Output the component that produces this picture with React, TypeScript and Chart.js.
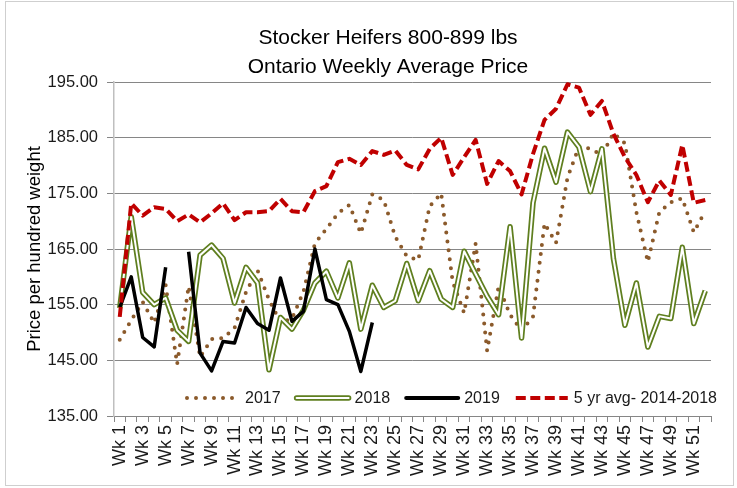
import React, { useEffect, useRef } from 'react';
import { Chart, registerables } from 'chart.js';

Chart.register(...registerables);

const weekLabels = [
  'Wk 1', 'Wk 2', 'Wk 3', 'Wk 4', 'Wk 5', 'Wk 6', 'Wk 7', 'Wk 8', 'Wk 9', 'Wk 10',
  'Wk 11', 'Wk 12', 'Wk 13', 'Wk 14', 'Wk 15', 'Wk 16', 'Wk 17', 'Wk 18', 'Wk 19', 'Wk 20',
  'Wk 21', 'Wk 22', 'Wk 23', 'Wk 24', 'Wk 25', 'Wk 26', 'Wk 27', 'Wk 28', 'Wk 29', 'Wk 30',
  'Wk 31', 'Wk 32', 'Wk 33', 'Wk 34', 'Wk 35', 'Wk 36', 'Wk 37', 'Wk 38', 'Wk 39', 'Wk 40',
  'Wk 41', 'Wk 42', 'Wk 43', 'Wk 44', 'Wk 45', 'Wk 46', 'Wk 47', 'Wk 48', 'Wk 49', 'Wk 50',
  'Wk 51', 'Wk 52',
];

const values2017 = [
  148.7, 152.2, 155.5, 151.7, 158.5, 144.3, 158.3, 145.6, 148.8, 149.0,
  150.8, 157.3, 161.2, 155.9, 151.8, 152.5, 157.3, 166.0, 168.6, 171.4,
  172.9, 167.8, 174.8, 173.8, 167.2, 163.7, 163.0, 172.7, 175.0, 159.1,
  153.5, 166.0, 146.7, 158.3, 153.2, 150.3, 152.9, 169.6, 166.1, 177.8,
  183.4, 183.0, 181.9, 185.8, 184.0, 171.6, 162.7, 171.6, 173.4, 174.1,
  168.0, 171.8,
];

const values2018 = [
  154.4, 170.8, 157.2, 155.0, 156.2, 150.4, 148.4, 163.9, 165.7, 163.3,
  155.3, 161.7, 158.9, 143.3, 152.7, 150.6, 154.0, 158.9, 161.0, 156.2,
  162.5, 150.6, 158.5, 154.5, 155.7, 162.4, 155.7, 161.1, 156.0, 154.5,
  164.6, 160.5, 156.5, 153.2, 169.0, 149.0, 173.3, 183.1, 177.0, 186.0,
  183.3, 175.3, 183.0, 163.3, 151.3, 158.9, 147.4, 152.9, 152.5, 165.3,
  151.6, 157.5,
];

const values2019 = [
  154.5, 160.0, 149.1, 147.4, 161.7, null, 164.5, 146.3, 143.1, 148.4,
  148.1, 154.5, 151.6, 150.4, 159.8, 152.0, 153.8, 165.0, 155.9, 155.0,
  150.2, 143.0, 151.8,
];

const values5yr = [
  152.8, 173.2, 171.0, 172.5, 172.2, 170.0, 171.2, 169.8, 171.4, 173.2,
  170.2, 171.6, 171.6, 171.8, 174.0, 171.8, 171.6, 175.4, 176.3, 180.6,
  181.2, 180.1, 182.6, 181.9, 182.7, 180.1, 179.3, 183.0, 185.0, 178.3,
  181.5, 184.6, 176.7, 180.8, 179.0, 174.8, 182.1, 188.2, 190.2, 194.6,
  194.0, 189.1, 191.6, 185.7, 181.5, 178.3, 173.4, 177.3, 174.7, 183.7,
  173.3, 173.8,
];

const yMin = 135;
const yMax = 195;
const yStep = 10;

const titleLines = ['Stocker Heifers 800-899 lbs', 'Ontario Weekly Average Price'];
const yAxisTitle = 'Price per hundred weight';
const legendLabels = ['2017', '2018', '2019', '5 yr avg- 2014-2018'];

const FONT = '"Liberation Sans", Arial, sans-serif';
const BROWN = '#8B5A2B';
const GREEN = '#5f7f1f';
const BLACK = '#000000';
const RED = '#C00000';
const GRID = '#868686';
const TEXT = '#1a1a1a';

const DOT_DASH = [0, 9];
const RED_DASH = [10, 4.5];

const frameAndTitlePlugin = {
  id: 'frameAndTitle',
  beforeDraw(chart: any) {
    const { ctx, width, height } = chart;
    ctx.save();
    ctx.fillStyle = '#ffffff';
    ctx.fillRect(0, 0, width, height);
    ctx.strokeStyle = '#cfcfcf';
    ctx.lineWidth = 1;
    ctx.strokeRect(5.5, 1.5, width - 9, height - 4);
    ctx.restore();
  },
  afterDraw(chart: any) {
    const { ctx, chartArea } = chart;
    ctx.save();
    ctx.font = `21px ${FONT}`;
    ctx.fillStyle = '#000';
    ctx.textAlign = 'center';
    ctx.textBaseline = 'middle';
    const cx = chartArea.left + (chartArea.right - chartArea.left) * 0.459;
    ctx.fillText(titleLines[0], cx, chartArea.top - 44);
    ctx.fillText(titleLines[1], cx, chartArea.top - 15);
    ctx.restore();
  },
};

const legendPlugin = {
  id: 'insideLegend',
  afterDatasetsDraw(chart: any) {
    const { ctx, chartArea } = chart;
    const y = chartArea.bottom - 18;
    let x = chartArea.left + 73;
    const sample = 52;
    ctx.save();
    ctx.font = `16px ${FONT}`;
    ctx.textBaseline = 'middle';
    ctx.textAlign = 'left';
    legendLabels.forEach((label, i) => {
      ctx.save();
      ctx.beginPath();
      ctx.moveTo(x, y);
      ctx.lineTo(x + sample, y);
      if (i === 0) {
        ctx.strokeStyle = BROWN;
        ctx.lineWidth = 4;
        ctx.lineCap = 'round';
        ctx.setLineDash(DOT_DASH);
        ctx.stroke();
      } else if (i === 1) {
        ctx.strokeStyle = GREEN;
        ctx.lineWidth = 5.5;
        ctx.lineCap = 'round';
        ctx.stroke();
        ctx.strokeStyle = '#ffffff';
        ctx.lineWidth = 2;
        ctx.stroke();
      } else if (i === 2) {
        ctx.strokeStyle = BLACK;
        ctx.lineWidth = 4;
        ctx.lineCap = 'round';
        ctx.stroke();
      } else {
        ctx.strokeStyle = RED;
        ctx.lineWidth = 4;
        ctx.lineCap = 'butt';
        ctx.setLineDash(RED_DASH);
        ctx.stroke();
      }
      ctx.restore();
      ctx.fillStyle = TEXT;
      ctx.fillText(label, x + sample + 6, y + 1);
      x += sample + 6 + ctx.measureText(label).width + 16;
    });
    ctx.restore();
  },
};

export default function App() {
  const canvasRef = useRef<HTMLCanvasElement | null>(null);

  useEffect(() => {
    const canvas = canvasRef.current;
    if (!canvas) return;
    const chart = new Chart(canvas, {
      type: 'line',
      data: {
        labels: weekLabels,
        datasets: [
          {
            label: legendLabels[3],
            data: values5yr,
            borderColor: RED,
            borderWidth: 4,
            borderDash: RED_DASH,
            borderCapStyle: 'butt',
            borderJoinStyle: 'round',
            pointRadius: 0,
            fill: false,
            tension: 0,
            order: 1,
          },
          {
            label: legendLabels[2],
            data: values2019,
            borderColor: BLACK,
            borderWidth: 3.5,
            borderJoinStyle: 'round',
            pointRadius: 0,
            fill: false,
            tension: 0,
            spanGaps: false,
            order: 2,
          },
          {
            label: legendLabels[1] + ' inner',
            data: values2018,
            borderColor: '#ffffff',
            borderWidth: 2,
            borderJoinStyle: 'round',
            pointRadius: 0,
            fill: false,
            tension: 0,
            order: 3,
          },
          {
            label: legendLabels[1],
            data: values2018,
            borderColor: GREEN,
            borderWidth: 5.5,
            borderJoinStyle: 'round',
            pointRadius: 0,
            fill: false,
            tension: 0,
            order: 4,
          },
          {
            label: legendLabels[0],
            data: values2017,
            borderColor: BROWN,
            borderWidth: 4,
            borderDash: DOT_DASH,
            borderCapStyle: 'round',
            borderJoinStyle: 'round',
            pointRadius: 0,
            fill: false,
            tension: 0,
            order: 5,
          },
        ],
      },
      options: {
        responsive: false,
        animation: false,
        devicePixelRatio: 1,
        layout: { padding: { left: 20, right: 26, top: 82, bottom: 0 } },
        plugins: {
          legend: { display: false },
          title: { display: false },
          tooltip: { enabled: false },
        },
        scales: {
          x: {
            type: 'category',
            offset: true,
            grid: {
              display: true,
              drawOnChartArea: false,
              drawTicks: true,
              tickLength: 6,
              color: GRID,
              offset: true,
            },
            border: { display: true, color: GRID, width: 1 },
            ticks: {
              autoSkip: false,
              maxRotation: 90,
              minRotation: 90,
              padding: 3,
              color: TEXT,
              font: { family: FONT, size: 18 },
              callback: (_v: any, i: number) => (i % 2 === 0 ? weekLabels[i] : ''),
            },
            afterFit: (scale: any) => {
              scale.height = 72;
            },
          },
          y: {
            min: yMin,
            max: yMax,
            grid: {
              color: GRID,
              lineWidth: 1,
              drawTicks: true,
              tickLength: 7,
            },
            border: { display: true, color: '#bfbfbf', width: 1.5 },
            ticks: {
              stepSize: yStep,
              padding: 9,
              color: TEXT,
              font: { family: FONT, size: 16.5 },
              callback: (v: any) => Number(v).toFixed(2),
            },
            title: {
              display: true,
              text: yAxisTitle,
              color: '#000',
              font: { family: FONT, size: 18.5 },
              padding: { top: 4, bottom: 4 },
            },
            afterFit: (scale: any) => {
              scale.width = 94;
            },
          },
        },
      },
      plugins: [frameAndTitlePlugin, legendPlugin],
    } as any);
    return () => chart.destroy();
  }, []);

  return (
    <div style={{ position: 'fixed', left: 0, top: 0, width: 737, height: 488, background: '#fff' }}>
      <canvas ref={canvasRef} width={737} height={488} style={{ display: 'block', width: 737, height: 488 }} />
    </div>
  );
}
